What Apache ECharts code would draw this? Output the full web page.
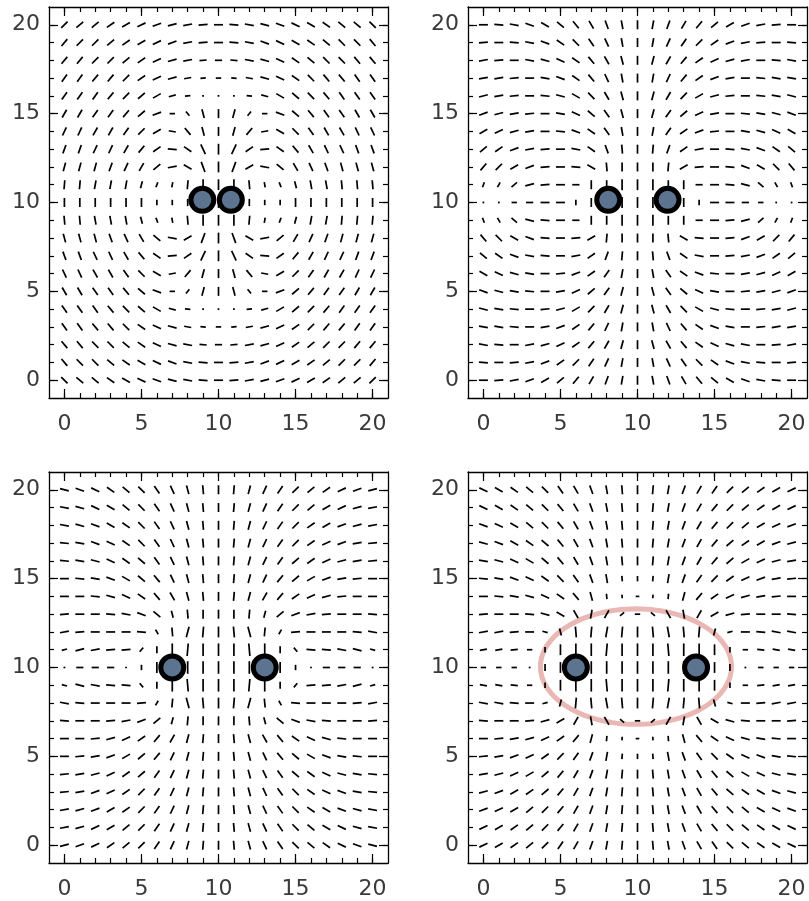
<!DOCTYPE html>
<html>
<head>
<meta charset="utf-8">
<script src="https://cdn.jsdelivr.net/npm/echarts@6/dist/echarts.min.js"></script>
<style>
  html, body { margin: 0; padding: 0; background: #fff; }
  #chart { width: 809px; height: 901px; }
</style>
</head>
<body>
<div id="chart"></div>
<script>
// sample positions of the field (columns x = 0..20, rows from y = 20 down to y = 0)
const gridCoords = [0, 1, 2, 3, 4, 5, 6, 7, 8, 9, 10, 11, 12, 13, 14, 15, 16, 17, 18, 19, 20];
const rowValues = [20, 19, 18, 17, 16, 15, 14, 13, 12, 11, 10, 9, 8, 7, 6, 5, 4, 3, 2, 1, 0];
const majorTicks = [0, 5, 10, 15, 20];
const minorTicks = gridCoords;

// segment orientation in degrees from +x, one row per y value (top row = y 20)
const field1 = [
  [45,40,40,35,30,25,20,15,10,5,0,175,170,165,160,155,150,145,140,140,135],
  [50,45,45,40,35,30,25,20,10,5,0,175,170,160,155,150,145,140,135,135,130],
  [50,50,45,45,40,35,25,15,10,5,0,175,170,165,155,145,140,135,135,130,130],
  [55,55,50,50,45,35,25,15,10,5,0,175,170,165,155,145,135,130,130,125,125],
  [55,55,55,50,45,40,30,15,5,0,0,0,175,165,150,140,135,130,125,125,125],
  [60,60,55,55,50,40,20,0,130,105,90,75,50,0,160,140,130,125,125,120,120],
  [65,65,60,60,55,45,30,170,130,105,90,75,50,10,150,135,125,120,120,115,115],
  [70,70,65,65,60,50,35,175,145,115,90,65,35,5,145,130,120,115,115,110,110],
  [75,75,75,70,65,60,40,10,150,110,90,70,30,170,140,120,115,110,105,105,105],
  [85,85,80,80,80,75,70,80,85,90,90,90,95,100,110,105,100,100,95,95,95],
  [90,90,90,90,90,90,90,90,90,90,90,90,90,90,90,90,90,90,90,90,90],
  [95,95,100,100,100,105,110,100,95,90,90,90,85,80,70,75,80,80,85,85,85],
  [105,105,105,110,115,120,140,170,30,70,90,110,150,10,40,60,65,70,75,75,75],
  [110,110,115,115,120,130,145,5,35,65,90,115,145,175,35,50,60,65,65,70,70],
  [115,115,120,120,125,135,150,10,50,75,90,105,130,170,30,45,55,60,60,65,65],
  [120,120,125,125,130,140,160,0,50,75,90,105,130,0,20,40,50,55,55,60,60],
  [125,125,125,130,135,140,150,165,175,0,0,0,5,15,30,40,45,50,55,55,55],
  [125,125,130,130,135,145,155,165,170,175,0,5,10,15,25,35,45,50,50,55,55],
  [130,130,135,135,140,145,155,165,170,175,0,5,10,15,25,35,40,45,45,50,50],
  [130,135,135,140,145,150,155,160,170,175,0,5,10,20,25,30,35,40,45,45,50],
  [135,140,140,145,150,155,160,165,170,175,0,5,10,15,20,25,30,35,40,40,45]
];
// segment length, tenths of a grid unit
const lens1 = [
  "555555555555555555555",
  "555555555555555555555",
  "555555555444555555555",
  "555555554333455555555",
  "555555543111345555555",
  "555555533555335555555",
  "555555545555545555555",
  "555555555666555555555",
  "555555555666555555555",
  "555554335666533455555",
  "555555334666433555555",
  "555554335666533455555",
  "555555555666555555555",
  "555555555666555555555",
  "555555545555545555555",
  "555555533555335555555",
  "555555543111345555555",
  "555555554333455555555",
  "555555555444555555555",
  "555555555555555555555",
  "555555555555555555555"
];

const field2 = [
  [0,175,170,160,150,140,130,120,110,100,90,80,70,60,50,40,30,20,10,5,0],
  [5,0,175,170,160,145,135,125,115,100,90,80,65,55,45,35,20,10,5,0,175],
  [10,5,0,170,165,155,145,130,120,105,90,75,60,50,35,25,15,10,0,175,170],
  [10,10,5,0,170,160,145,130,115,100,90,80,65,50,35,20,10,0,175,170,170],
  [15,10,5,0,175,165,150,135,120,105,90,75,60,45,30,15,5,0,175,170,165],
  [20,15,10,5,0,170,155,140,125,105,90,75,55,40,25,10,0,175,170,165,160],
  [30,25,15,10,0,175,160,145,125,100,90,80,55,35,20,5,0,170,165,155,150],
  [40,35,20,10,5,0,170,145,110,95,90,85,70,35,10,0,175,170,160,145,140],
  [50,45,30,20,5,0,175,150,95,90,90,90,85,30,5,0,175,160,150,135,130],
  [70,60,40,15,5,0,0,90,90,90,90,90,90,90,0,0,175,165,140,120,110],
  [90,90,0,0,0,0,90,90,90,90,90,90,90,90,90,0,0,0,0,90,90],
  [110,120,140,165,175,0,0,90,90,90,90,90,90,90,0,0,5,15,40,60,70],
  [130,135,150,160,175,0,5,30,85,90,90,90,95,150,175,0,5,20,30,45,50],
  [140,145,160,170,175,0,10,35,70,85,90,95,110,145,170,0,5,10,20,35,40],
  [150,155,165,170,0,5,20,35,55,80,90,100,125,145,160,175,0,10,15,25,30],
  [160,165,170,175,0,10,25,40,55,75,90,105,125,140,155,170,0,5,10,15,20],
  [165,170,175,0,5,15,30,45,60,75,90,105,120,135,150,165,175,0,5,10,15],
  [170,170,175,0,10,20,35,50,65,80,90,100,115,130,145,160,170,0,5,10,10],
  [170,175,0,10,15,25,35,50,60,75,90,105,120,130,145,155,165,170,0,5,10],
  [175,0,5,10,20,35,45,55,65,80,90,100,115,125,135,145,160,170,175,0,5],
  [0,5,10,20,30,40,50,60,70,80,90,100,110,120,130,140,150,160,170,175,0]
];
const lens2 = [
  "555555555555555555555",
  "555555555555555555555",
  "555555555555555555555",
  "555555555555555555555",
  "555555555555555555555",
  "555555555555555555555",
  "555555555555555555555",
  "555555555555555555555",
  "555555555555555555555",
  "334555455666554555433",
  "113455355666553554311",
  "334555455666554555433",
  "555555555555555555555",
  "555555555555555555555",
  "555555555555555555555",
  "555555555555555555555",
  "555555555555555555555",
  "555555555555555555555",
  "555555555555555555555",
  "555555555555555555555",
  "555555555555555555555"
];

const field3 = [
  [165,160,155,145,140,135,125,115,105,95,90,85,75,65,55,45,40,35,25,20,15],
  [170,165,155,150,140,135,125,115,105,95,90,85,75,65,55,45,40,30,25,15,10],
  [170,165,160,150,145,135,125,115,105,95,90,85,75,65,55,45,35,30,20,15,10],
  [175,170,160,155,145,135,125,115,105,95,90,85,75,65,55,45,35,25,20,10,5],
  [175,170,165,155,145,140,125,115,105,95,90,85,75,65,55,40,35,25,15,10,5],
  [0,175,170,160,150,140,130,115,105,95,90,85,75,65,50,40,30,20,10,5,0],
  [0,0,175,165,155,145,130,120,105,95,90,85,75,60,50,35,25,15,5,0,0],
  [5,0,0,175,170,160,140,105,95,90,90,90,85,75,40,20,10,5,0,0,175],
  [10,5,0,0,0,175,120,95,75,85,90,95,105,85,60,5,0,0,0,175,170],
  [15,15,10,5,5,50,90,90,85,90,90,90,95,90,90,130,175,175,170,165,165],
  [0,0,0,0,0,90,90,90,90,90,90,90,90,90,90,90,0,0,0,0,0],
  [165,165,170,175,175,130,90,90,95,90,90,90,85,90,90,50,5,5,10,15,15],
  [170,175,0,0,0,5,60,85,105,95,90,85,75,95,120,175,0,0,0,5,10],
  [175,0,0,5,10,20,40,75,85,90,90,90,95,105,140,160,170,175,0,0,5],
  [0,0,5,15,25,35,50,60,75,85,90,95,105,120,130,145,155,165,175,0,0],
  [0,5,10,20,30,40,50,65,75,85,90,95,105,115,130,140,150,160,170,175,0],
  [5,10,15,25,35,40,55,65,75,85,90,95,105,115,125,140,145,155,165,170,175],
  [5,10,20,25,35,45,55,65,75,85,90,95,105,115,125,135,145,155,160,170,175],
  [10,15,20,30,35,45,55,65,75,85,90,95,105,115,125,135,145,150,160,165,170],
  [10,15,25,30,40,45,55,65,75,85,90,95,105,115,125,135,140,150,155,165,170],
  [15,20,25,35,40,45,55,65,75,85,90,95,105,115,125,135,140,145,155,160,165]
];
const lens3 = [
  "555555555555555555555",
  "555555555555555555555",
  "555555555555555555555",
  "555555555555555555555",
  "555555555555555555555",
  "555555555555555555555",
  "555555555555555555555",
  "555555545555545555555",
  "555555356666653555555",
  "355553477777774355553",
  "144413677777776314441",
  "355553477777774355553",
  "555555356666653555555",
  "555555545555545555555",
  "555555555555555555555",
  "555555555555555555555",
  "555555555555555555555",
  "555555555555555555555",
  "555555555555555555555",
  "555555555555555555555",
  "555555555555555555555"
];

const field4 = [
  [155,150,145,140,135,125,120,110,100,95,90,85,80,70,60,55,45,40,35,30,25],
  [155,150,145,140,135,130,120,110,100,95,90,85,80,70,60,50,45,40,35,30,25],
  [160,155,150,140,135,130,120,110,100,95,90,85,80,70,60,50,45,40,30,25,20],
  [165,160,150,145,140,130,120,110,100,95,90,85,80,70,60,50,40,35,30,20,15],
  [170,165,155,150,140,130,120,110,100,95,90,85,80,70,60,50,40,30,25,15,10],
  [175,170,160,155,145,135,125,110,100,95,90,85,80,70,55,45,35,25,20,10,5],
  [0,175,170,165,155,145,130,105,95,95,0,85,85,75,50,35,25,15,10,5,0],
  [5,0,0,175,165,150,120,80,60,40,0,140,120,100,60,30,15,5,0,0,175],
  [10,10,5,0,165,105,95,85,80,85,90,95,100,95,85,75,15,0,175,170,170],
  [10,10,5,0,90,90,90,90,85,90,90,90,95,90,90,90,90,0,175,170,170],
  [0,0,0,0,90,90,90,90,90,90,90,90,90,90,90,90,90,0,0,0,0],
  [170,170,175,0,90,90,90,90,95,90,90,90,85,90,90,90,90,0,5,10,10],
  [170,170,175,0,15,75,85,95,100,95,90,85,80,85,95,105,165,0,5,10,10],
  [175,0,0,5,15,30,60,100,120,140,0,40,60,80,120,150,165,175,0,0,5],
  [0,5,10,15,25,35,50,75,85,85,0,95,95,105,130,145,155,165,170,175,0],
  [5,10,20,25,35,45,55,70,80,85,90,95,100,110,125,135,145,155,160,170,175],
  [10,15,25,30,40,50,60,70,80,85,90,95,100,110,120,130,140,150,155,165,170],
  [15,20,30,35,40,50,60,70,80,85,90,95,100,110,120,130,140,145,150,160,165],
  [20,25,30,40,45,50,60,70,80,85,90,95,100,110,120,130,135,140,150,155,160],
  [25,30,35,40,45,50,60,70,80,85,90,95,100,110,120,130,135,140,145,150,155],
  [25,30,35,40,45,55,60,70,80,85,90,95,100,110,120,125,135,140,145,150,155]
];
const lens4 = [
  "555555555555555555555",
  "555555555555555555555",
  "555555555555555555555",
  "555555555555555555555",
  "555555555555555555555",
  "555555555333555555555",
  "555555553222355555555",
  "555555555333555555555",
  "555534666666666435555",
  "444336777777777633444",
  "333146777777777641333",
  "444336777777777633444",
  "555534666666666435555",
  "555555555333555555555",
  "555555553222355555555",
  "555555555333555555555",
  "555555555555555555555",
  "555555555555555555555",
  "555555555555555555555",
  "555555555555555555555",
  "555555555555555555555"
];

// point masses of each panel
const masses1 = [[8.95, 10.15], [10.8, 10.15]];
const masses2 = [[8.1, 10.15], [11.95, 10.15]];
const masses3 = [[7.0, 10.0], [13.0, 10.0]];
const masses4 = [[6.0, 10.0], [13.8, 10.0]];
// ellipse of panel 4: centre x, centre y, half width, half height
const ellipse4 = [9.9, 10.05, 6.2, 3.25];

const fields = [field1, field2, field3, field4];
const lens = [lens1, lens2, lens3, lens4];
const masses = [masses1, masses2, masses3, masses4];

const boxes = [
  { left: 49, top: 7 },
  { left: 468, top: 7 },
  { left: 49, top: 472 },
  { left: 468, top: 472 }
];

function buildField(rows, lenRows) {
  const out = [];
  rows.forEach((row, r) => {
    row.forEach((ang, c) => {
      out.push([gridCoords[c], rowValues[r], ang, Number(lenRows[r][c]) / 10]);
    });
  });
  return out;
}

function renderSegment(params, api) {
  const x = api.value(0);
  const y = api.value(1);
  const a = api.value(2) * Math.PI / 180;
  const half = 18 * api.value(3) / 2;
  const unit = api.size([1, 1]);
  const dx = half * Math.cos(a) / unit[0];
  const dy = half * Math.sin(a) / unit[1];
  const p1 = api.coord([x - dx, y - dy]);
  const p2 = api.coord([x + dx, y + dy]);
  return {
    type: 'line',
    shape: { x1: p1[0], y1: p1[1], x2: p2[0], y2: p2[1] },
    style: { stroke: '#000', lineWidth: 1.7 }
  };
}

function renderEllipse(params, api) {
  const cx = api.value(0), cy = api.value(1);
  const rx = api.value(2), ry = api.value(3);
  const pts = [];
  for (let i = 0; i < 120; i++) {
    const t = i / 120 * Math.PI * 2;
    pts.push(api.coord([cx + rx * Math.cos(t), cy + ry * Math.sin(t)]));
  }
  return {
    type: 'polygon',
    shape: { points: pts },
    style: { fill: 'none', stroke: '#e9b8b5', lineWidth: 5 }
  };
}

const tickStyle = { color: '#000', width: 1.2 };

function makeAxes(dim, gridIndex) {
  const common = {
    gridIndex: gridIndex,
    type: 'value',
    min: -1,
    max: 21,
    splitLine: { show: false }
  };
  const near = dim === 'x' ? 'bottom' : 'left';
  const far = dim === 'x' ? 'top' : 'right';
  const line = { show: true, onZero: false, lineStyle: { color: '#000', width: 1.3 } };
  const noLine = { show: false, onZero: false };
  return [
    Object.assign({}, common, {
      position: near,
      axisLine: line,
      axisTick: { inside: true, length: 9, customValues: majorTicks, lineStyle: tickStyle },
      axisLabel: {
        customValues: majorTicks,
        fontSize: 22,
        color: '#3a3a3a',
        fontFamily: 'DejaVu Sans',
        margin: dim === 'x' ? 15 : 9
      }
    }),
    Object.assign({}, common, {
      position: near,
      axisLine: noLine,
      axisTick: { inside: true, length: 5, customValues: minorTicks, lineStyle: tickStyle },
      axisLabel: { show: false }
    }),
    Object.assign({}, common, {
      position: far,
      axisLine: line,
      axisTick: { inside: true, length: 9, customValues: majorTicks, lineStyle: tickStyle },
      axisLabel: { show: false }
    }),
    Object.assign({}, common, {
      position: far,
      axisLine: noLine,
      axisTick: { inside: true, length: 5, customValues: minorTicks, lineStyle: tickStyle },
      axisLabel: { show: false }
    })
  ];
}

const grids = [];
const xAxes = [];
const yAxes = [];
const series = [];

boxes.forEach((box, i) => {
  grids.push({ left: box.left, top: box.top, width: 339, height: 391 });
  xAxes.push(...makeAxes('x', i));
  yAxes.push(...makeAxes('y', i));

  if (i === 3) {
    series.push({
      type: 'custom',
      xAxisIndex: 4 * i,
      yAxisIndex: 4 * i,
      renderItem: renderEllipse,
      data: [ellipse4],
      silent: true,
      z: 1
    });
  }
  series.push({
    type: 'custom',
    xAxisIndex: 4 * i,
    yAxisIndex: 4 * i,
    renderItem: renderSegment,
    data: buildField(fields[i], lens[i]),
    silent: true,
    z: 2
  });
  series.push({
    type: 'scatter',
    xAxisIndex: 4 * i,
    yAxisIndex: 4 * i,
    data: masses[i],
    symbol: 'circle',
    symbolSize: 23,
    itemStyle: { color: '#5c7490', borderColor: '#000', borderWidth: 5, opacity: 1 },
    silent: true,
    z: 4
  });
});

const chart = echarts.init(document.getElementById('chart'));
chart.setOption({
  backgroundColor: '#fff',
  animation: false,
  grid: grids,
  xAxis: xAxes,
  yAxis: yAxes,
  series: series
});
</script>
</body>
</html>
